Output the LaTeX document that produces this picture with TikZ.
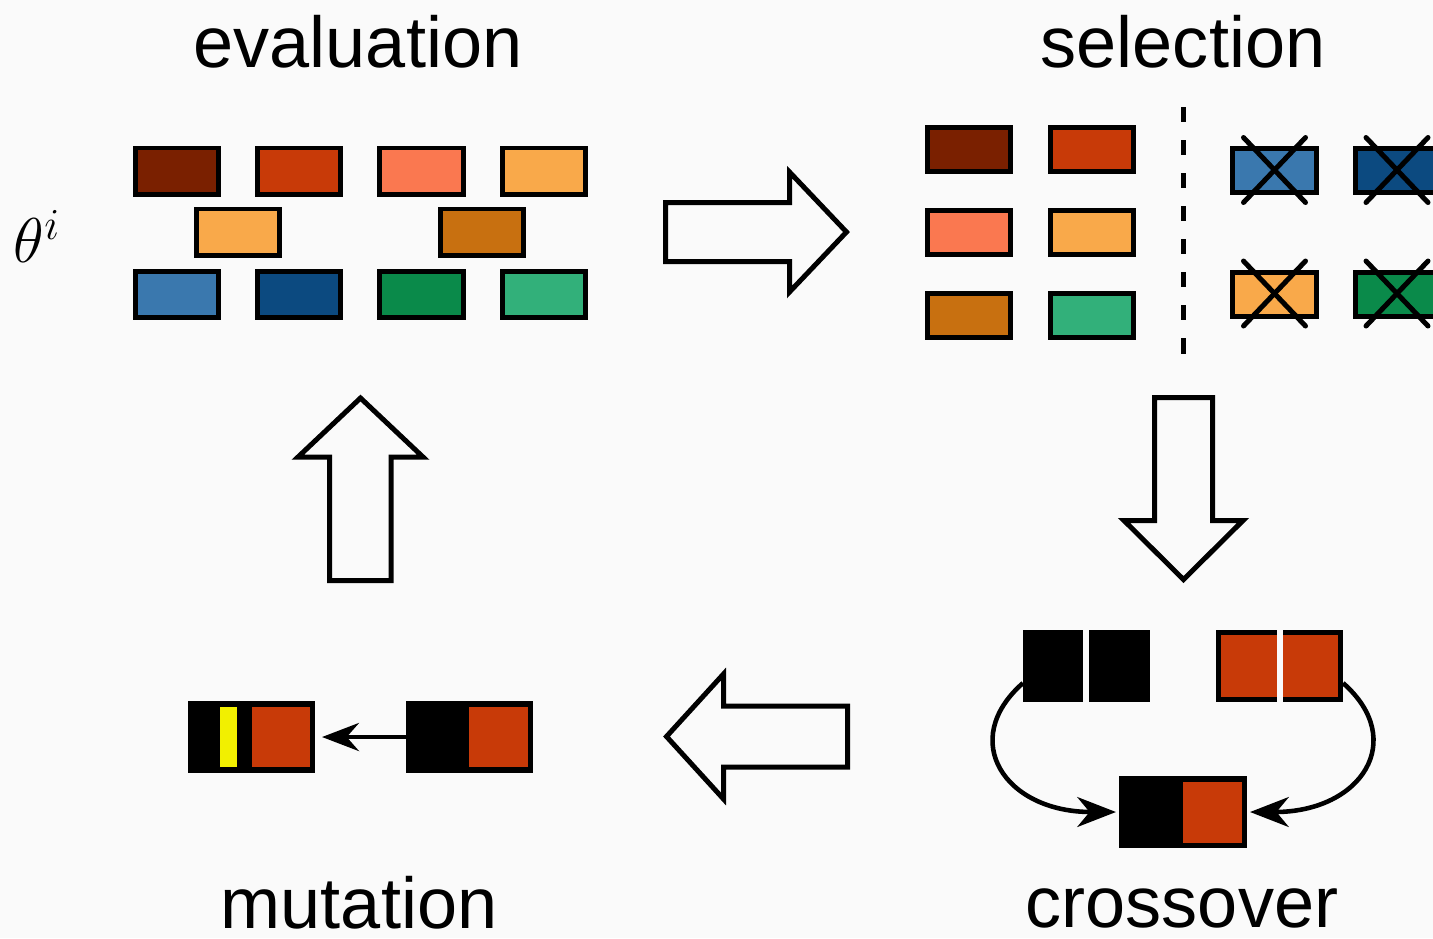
\RequirePackage{fix-cm}
\documentclass[tikz,border=0pt]{standalone}
\usepackage{fontspec}
\newfontfamily\labelfont{Liberation Sans}
\usetikzlibrary{arrows.meta}
\definecolor{bgcol}{HTML}{FAFAFA}
\definecolor{cDbrown}{HTML}{7A2000}
\definecolor{cRed}{HTML}{C83A08}
\definecolor{cSalmon}{HTML}{FA7850}
\definecolor{cLorange}{HTML}{F9A94A}
\definecolor{cObrown}{HTML}{C87010}
\definecolor{cSteel}{HTML}{3A78AE}
\definecolor{cDblue}{HTML}{0C4A80}
\definecolor{cGreen}{HTML}{0A8A4A}
\definecolor{cSea}{HTML}{32B07A}
\definecolor{cYellow}{HTML}{F2F000}
\begin{document}
\begin{tikzpicture}[x=0.01cm,y=-0.01cm,
  gbox/.style={draw=black, line width=1.42pt, minimum width=0.83cm, minimum height=0.46cm, inner sep=0pt},
  sbox/.style={gbox, minimum height=0.44cm},
  bigbox/.style={draw=black, line width=1.42pt, minimum width=1.22cm, minimum height=0.67cm, inner sep=0pt},
  blockarrow/.style={draw=black, line width=1.42pt, line join=miter},
  xline/.style={draw=black, line width=1.42pt, line cap=round},
  lbl/.style={font=\labelfont\fontsize{20.5}{24}\selectfont, anchor=base, inner sep=0pt},
  carrow/.style={draw=black, line width=1.3pt, -{Stealth[length=11pt,width=8.5pt,inset=3.5pt]}},
  marrow/.style={draw=black, line width=1.15pt, -{Stealth[length=10.5pt,width=8pt,inset=3.5pt]}},
]
\useasboundingbox (0,0) rectangle (1433,938);
\clip (0,0) rectangle (1433,938);
\fill[bgcol] (0,0) rectangle (1433,938);

% labels
\node[lbl] (tEval) at (358,67) {evaluation};
\node[lbl] (tSel) at (1183,67) {selection};
\node[lbl] (tMut) at (359,928) {mutation};
\node[lbl] (tCross) at (1182,927) {crossover};
\node[anchor=base west, inner sep=0pt, font=\fontsize{18}{22}\selectfont] (theta) at (13,262) {$\theta^i$};

% evaluation population
\node[gbox, fill=cDbrown] (e1) at (177,171) {};
\node[gbox, fill=cRed] (e2) at (299,171) {};
\node[gbox, fill=cSalmon] (e3) at (421.5,171) {};
\node[gbox, fill=cLorange] (e4) at (544,171) {};
\node[gbox, fill=cLorange] (e5) at (238,232) {};
\node[gbox, fill=cObrown] (e6) at (482,232) {};
\node[gbox, fill=cSteel] (e7) at (177,294) {};
\node[gbox, fill=cDblue] (e8) at (299,294) {};
\node[gbox, fill=cGreen] (e9) at (421.5,294) {};
\node[gbox, fill=cSea] (e10) at (544,294) {};

% selection
\node[sbox, fill=cDbrown] (s1) at (969,149.5) {};
\node[sbox, fill=cRed] (s2) at (1092,149.5) {};
\node[sbox, fill=cSalmon] (s3) at (969,232.5) {};
\node[sbox, fill=cLorange] (s4) at (1092,232.5) {};
\node[sbox, fill=cObrown] (s5) at (969,315.5) {};
\node[sbox, fill=cSea] (s6) at (1092,315.5) {};
\draw[black, line width=1.42pt, dash pattern=on 4.3pt off 5.1pt] (1183,107) -- (1183,358);
\node[sbox, fill=cSteel] (x1) at (1274.5,170.5) {};
\node[sbox, fill=cDblue] (x2) at (1397,170.5) {};
\node[sbox, fill=cLorange] (x3) at (1274.5,294) {};
\node[sbox, fill=cGreen] (x4) at (1397,294) {};
\foreach \n in {x1,x2,x3,x4}{
  \draw[xline] (\n) ++(-31,-33) -- ++(62,65);
  \draw[xline] (\n) ++(31,-33) -- ++(-62,65);
}

% block arrows
\draw[blockarrow] (665.5,202.5) -- (789.5,202.5) -- (789.5,172) -- (846.5,232) -- (789.5,292) -- (789.5,261.5) -- (665.5,261.5) -- cycle;
\draw[blockarrow] (1154.5,397.5) -- (1212.5,397.5) -- (1212.5,520.5) -- (1243,520.5) -- (1183.5,579.5) -- (1124,520.5) -- (1154.5,520.5) -- cycle;
\draw[blockarrow] (847.5,706) -- (723.5,706) -- (723.5,674) -- (666.5,736.5) -- (723.5,799) -- (723.5,767) -- (847.5,767) -- cycle;
\draw[blockarrow] (329.5,580.5) -- (329.5,457) -- (298,457) -- (360.5,398) -- (423,457) -- (391,457) -- (391,580.5) -- cycle;

% crossover
\node[bigbox, fill=black] (cb) at (1086.5,666) {};
\fill[bgcol] (1083,627) rectangle (1089,705);
\node[bigbox, fill=cRed] (cr) at (1279.5,666) {};
\fill[bgcol] (1277,627) rectangle (1283,705);
\node[bigbox, fill=black] (cm) at (1183,812) {};
\fill[cRed] (1183,781.5) rectangle (1242,842.5);
\draw[carrow, shorten >=1pt] (cb.195) .. controls +(-65,57) and +(-115,0) .. (cm.west);
\draw[carrow, shorten >=1pt] (cr.345) .. controls +(65,57) and +(115,0) .. (cm.east);

% mutation
\node[bigbox, fill=black] (m1) at (251.5,737) {};
\fill[cYellow] (220,707) rectangle (237,767);
\fill[cRed] (252,707) rectangle (310,767);
\node[bigbox, fill=black] (m2) at (469.5,737) {};
\fill[cRed] (469,707) rectangle (528,767);
\draw[marrow, shorten >=2pt] (m2.west) -- (m1.east);
\end{tikzpicture}
\end{document}
